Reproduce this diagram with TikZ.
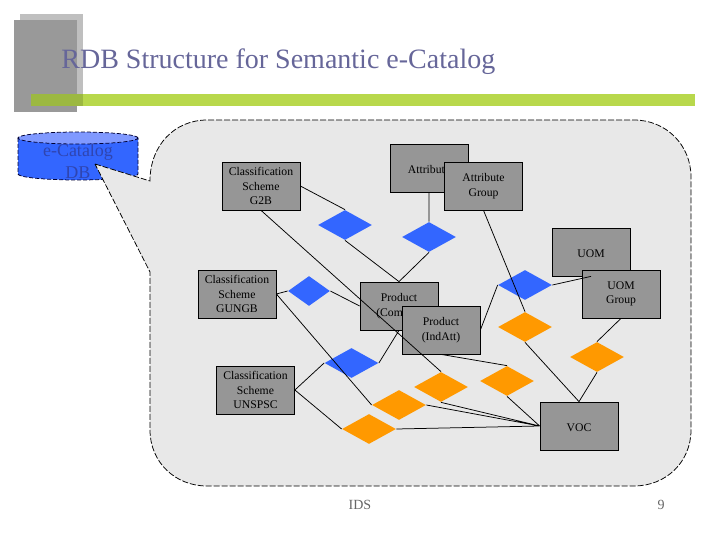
\documentclass[tikz,border=0pt]{standalone}
\usepackage{fontspec}
\setmainfont{Liberation Serif}
\usetikzlibrary{shapes.geometric}
\definecolor{boxgray}{HTML}{969696}
\definecolor{panelgray}{HTML}{E8E8E8}
\definecolor{relblue}{HTML}{3366FF}
\definecolor{dbtop}{HTML}{8099FF}
\definecolor{dbink}{HTML}{2F45B0}
\definecolor{relorange}{HTML}{FF9900}
\definecolor{barlime}{HTML}{B8D84C}
\definecolor{titleink}{HTML}{666699}
\tikzset{
    every picture/.style={line width=0.75pt},
    table/.style={draw=black, fill=boxgray, minimum width=78pt, minimum height=48pt, inner sep=0pt, align=center, font=\fontsize{11.7}{14.5}\selectfont, execute at begin node={\rule{0pt}{11pt}}},
    rel/.style={diamond, aspect=1.8, inner sep=0pt, minimum width=54pt, minimum height=30pt, text width=0pt},
    relb/.style={rel, fill=relblue},
    relo/.style={rel, fill=relorange},
    link/.style={draw=black},
    outline/.style={draw=black, dash pattern=on 6pt off 2pt},
    dboutline/.style={draw=black!80!blue, dash pattern=on 4pt off 2pt}
}

\begin{document}
\begin{tikzpicture}[x=1pt,y=-1pt]
        \useasboundingbox (0,0) rectangle (720,540);
        % slide decoration
        \fill[gray!50] (20,14) rectangle (83,106);
        \fill[gray!80] (14,20) rectangle (77,112);
        \fill[barlime] (31,94) rectangle (695,106);
        \fill[barlime!85!black] (31,94) rectangle (83,106);
        \node[anchor=base west, inner sep=0pt, text=titleink, font=\fontsize{28}{30}\selectfont] (title) at (61,69) {RDB Structure for Semantic e-Catalog};
        % database
        \draw[fill=relblue, dboutline] (18,138) -- (18,174) arc[start angle=180, end angle=360, x radius=60pt, y radius=6pt] -- (138,138);
        \draw[fill=dbtop, dboutline] (78,138) ellipse[x radius=60pt, y radius=6pt];
        \node[align=center, inner sep=0pt, text=dbink, font=\fontsize{18}{22}\selectfont] (db) at (78,161) {e-Catalog\\DB};
        % panel
        \draw[fill=panelgray, outline] (95,164) -- (150,181)
            .. controls (150,145) and (175,120) .. (207,120) -- (634,120)
            .. controls (666,120) and (691,145) .. (691,177) -- (691,430)
            .. controls (691,462) and (666,486) .. (634,486) -- (207,486)
            .. controls (175,486) and (150,462) .. (150,430) -- (150,272) -- cycle;
        % tables
        \node[table] (g2b) at (261,186) {Classification\\Scheme\\G2B};
        \node[table] (attr) at (429,168) {Attribute};
        \node[table] (uom) at (591,252) {UOM};
        \node[table] (gungb) at (237,294) {Classification\\Scheme\\GUNGB};
        \node[table] (unspsc) at (255.5,390) {Classification\\Scheme\\UNSPSC};
        \node[table] (voc) at (579,426) {VOC};
        \node[table] (group) at (483.5,186) {Attribute\\Group};
        \node[table] (uomg) at (621,294) {UOM\\Group};
        \node[table] (prodc) at (399,306) {Product\\(ComAtt)};
        \node[table] (prodi) at (441,330) {Product\\(IndAtt)};
        % relations
        \node[relb] (r1) at (345,225) {};
        \node[relb] (r2) at (429,237) {};
        \node[relb] (r3) at (525,285) {};
        \node[relb, minimum width=42pt] (r4) at (309,291) {};
        \node[relb] (r5) at (351.5,363) {};
        \node[relo] (o1) at (525,327) {};
        \node[relo] (o2) at (597,357) {};
        \node[relo] (o3) at (507,381) {};
        \node[relo] (o4) at (441,387) {};
        \node[relo] (o5) at (399,405) {};
        \node[relo] (o6) at (369,429) {};
        % connectors
        \draw[link]
            (g2b.east) -- (r1.north)
            (r1.south) -- (prodc.north)
            (g2b.south) -- (o4.north)
            (attr.south) -- (r2.north)
            (r2.south) -- (prodc.north)
            (group.south) -- (o1.north)
            (r3.east) -- (uom.south)
            (r3.west) -- (prodi.east)
            (uomg.south) -- (o2.north)
            (o1.south) -- (voc.north)
            (o2.south) -- (voc.north)
            (prodi.south) -- (o3.north)
            (o3.south) -- (voc.west)
            (o4.south) -- (voc.west)
            (o5.east) -- (voc.west)
            (o6.east) -- (voc.west)
            (gungb.east) -- (r4.west)
            (r4.east) -- (prodc.west)
            (gungb.east) -- (o5.west)
            (unspsc.east) -- (r5.west)
            (r5.east) -- (prodc.south)
            (unspsc.east) -- (o6.west)
            ;
        % footer
        \node[text=black!60, font=\fontsize{14}{16}\selectfont] (ids) at (360,505) {IDS};
        \node[text=black!60, font=\fontsize{14}{16}\selectfont] (page) at (661,505) {9};
    \end{tikzpicture}
\end{document}
